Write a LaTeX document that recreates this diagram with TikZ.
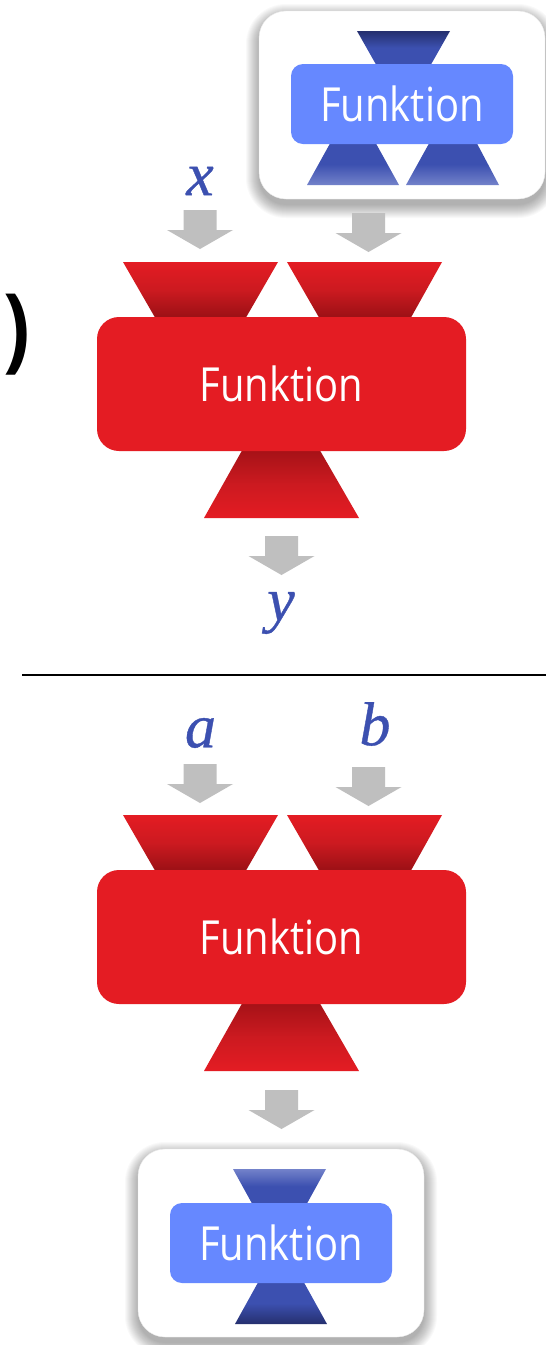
\documentclass[tikz,border=0pt]{standalone}
\usepackage{fontspec}
\usepackage{tikz}
\usetikzlibrary{arrows.meta,positioning,calc}
\newfontfamily\funkfont[FakeStretch=0.85]{Open Sans}
\newfontfamily\letterfont[FakeBold=0.6]{Liberation Serif}
\definecolor{funkred}{HTML}{E41C23}
\definecolor{funkreddark}{HTML}{9B1015}
\definecolor{funkredmid}{HTML}{CC1A20}
\definecolor{funkblue}{HTML}{6688FF}
\definecolor{funkbluemid}{HTML}{3C50B0}
\definecolor{funkbluedark}{HTML}{252F6E}
\definecolor{funkbluepale}{HTML}{7382CA}
\definecolor{arrowgray}{HTML}{BFBFBF}
\tikzset{
  funkbox/.style={inner sep=0pt, rounded corners=#1, text=white,
    font=\funkfont\fontsize{47}{47}\selectfont},
  redbox/.style={funkbox=22pt, fill=funkred, minimum width=369pt, minimum height=134pt},
  bluebox/.style={funkbox=12pt, fill=funkblue, minimum width=222pt, minimum height=80pt},
  whitecard/.style={inner sep=0pt, rounded corners=27pt, fill=white, draw=black!8,
    minimum width=286pt, minimum height=188pt},
  redin/.style={top color=funkred, bottom color=funkreddark, middle color=funkredmid},
  redout/.style={top color=funkreddark!85!funkred, bottom color=funkred, middle color=funkredmid},
  bluehigh/.style={top color=funkbluedark, bottom color=funkbluemid, middle color=funkbluemid},
  bluelow/.style={top color=funkbluemid, bottom color=funkbluepale, middle color=funkbluemid},
  blueupin/.style={top color=funkbluepale, bottom color=funkbluemid, middle color=funkbluemid},
  bluedownout/.style={top color=funkbluemid, bottom color=funkbluedark, middle color=funkbluemid},
  varlabel/.style={text=funkbluemid, inner sep=0pt, font=\letterfont\itshape\fontsize{62}{62}\selectfont},
  grayarrow/.pic={
    \fill[arrowgray] (-16.5,0) -- (16.5,0) -- (16.5,20) -- (33,20) -- (0,39)
      -- (-33,20) -- (-16.5,20) -- cycle;
  }
}
% soft shadow under a white card
\newcommand{\cardshadow}[4]{
  \foreach \s in {13,12,...,0}
    \fill[black, opacity=0.024, rounded corners=27+\s]
      (#1-\s,#2+6-\s) rectangle (#3+\s,#4+6+\s);
}
\begin{document}
\begin{tikzpicture}[x=1pt,y=-1pt]
    \useasboundingbox (0,0) rectangle (546,1345);
    \fill[white] (0,0) rectangle (546,1345);

    % Closing bracket, cut by the left edge
    \node[inner sep=0pt, font=\funkfont\bfseries\fontsize{93}{93}\selectfont] (bracket) at (16.5,335) {)};

    % Upper part: card with the passed function
    \cardshadow{259}{11}{545}{199}
    \node[whitecard] (topcard) at (402,105) {};
    \shade[bluehigh] (357,31) -- (450,31) -- (431,64.5) -- (376,64.5) -- cycle;
    \shade[bluelow] (330,143.5) -- (376,143.5) -- (399,185) -- (307,185) -- cycle;
    \shade[bluelow] (429,143.5) -- (477,143.5) -- (499,185) -- (406,185) -- cycle;
    \node[bluebox] (topfunk) at (402,104) {Funktion};

    \node[varlabel] (varx) at (200,181) {x};
    \pic at (200,210) {grayarrow};
    \pic at (368.5,213) {grayarrow};

    % Upper part: red function
    \shade[redin] (123,262) -- (278,262) -- (246,317.5) -- (155,317.5) -- cycle;
    \shade[redin] (287,262) -- (442,262) -- (411,317.5) -- (319,317.5) -- cycle;
    \shade[redout] (242,450.5) -- (320,450.5) -- (359,518) -- (204,518) -- cycle;
    \node[redbox] (upperfunk) at (281.5,384) {Funktion};
    \pic at (281.5,536) {grayarrow};
    \node[varlabel] (vary) at (281,613) {y};

    % Separator
    \draw[line width=1.5pt] (22,675) coordinate (sepa) -- (546,675) coordinate (sepb);

    % Lower part: red function
    \node[varlabel] (vara) at (200.5,733) {a};
    \node[varlabel] (varb) at (375,724) {b};
    \pic at (200,764) {grayarrow};
    \pic at (368.5,767) {grayarrow};
    \shade[redin] (123,815) -- (278,815) -- (246,870.5) -- (155,870.5) -- cycle;
    \shade[redin] (287,815) -- (442,815) -- (411,870.5) -- (319,870.5) -- cycle;
    \shade[redout] (242,1003.5) -- (320,1003.5) -- (359,1071) -- (204,1071) -- cycle;
    \node[redbox] (lowerfunk) at (281.5,937) {Funktion};
    \pic at (281.5,1090) {grayarrow};

    % Lower part: card with the returned function
    \cardshadow{138}{1149}{424}{1337}
    \node[whitecard] (lowcard) at (281,1243) {};
    \shade[blueupin] (233,1169) -- (326,1169) -- (307,1203.5) -- (252,1203.5) -- cycle;
    \shade[bluedownout] (258,1282.5) -- (304,1282.5) -- (327,1324) -- (235,1324) -- cycle;
    \node[bluebox] (lowfunk) at (281,1243) {Funktion};
\end{tikzpicture}
\end{document}
